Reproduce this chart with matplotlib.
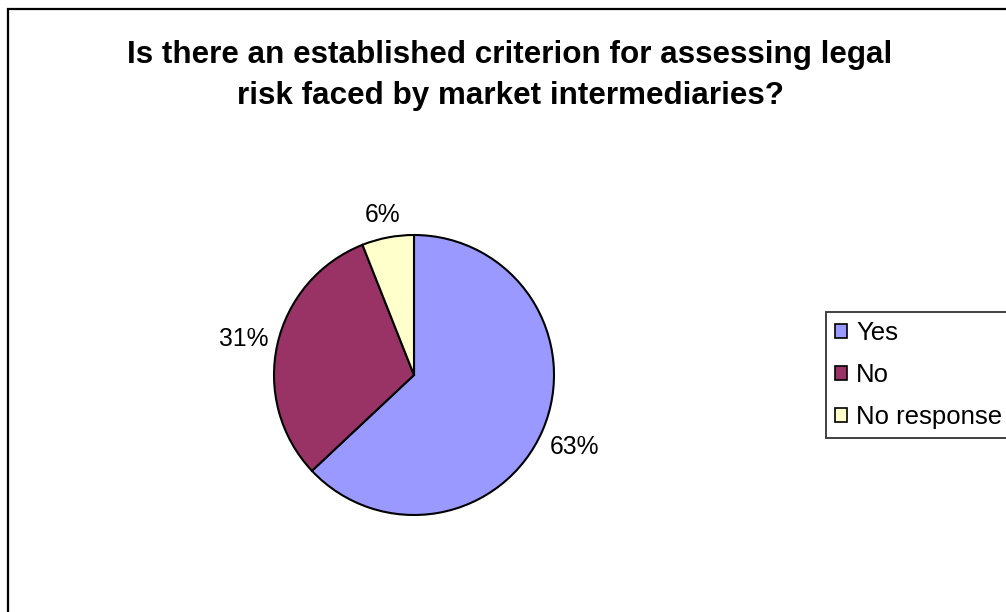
import numpy as np
import matplotlib
matplotlib.use("Agg")
import matplotlib.pyplot as plt
from matplotlib.patches import Rectangle

categories = ["Yes", "No", "No response"]
values = [63, 31, 6]
colors = ["#9999FF", "#993366", "#FFFFCC"]
label_dist = [1.25, 1.245, 1.18]
title = "Is there an established criterion for assessing legal\nrisk faced by market intermediaries?"

plt.rcParams['font.family'] = ['Liberation Sans', 'DejaVu Sans']

W, H = 1006, 612
fig = plt.figure(figsize=(W / 100, H / 100), dpi=100)
fig.patch.set_facecolor("white")

# outer chart border (right and bottom run off the image)
fig.patches.append(Rectangle((8 / W, -0.2), 1.2, 1 - 9 / H + 0.2, transform=fig.transFigure,
                             fill=False, edgecolor="black", linewidth=1.6, clip_on=False))

fig.text(510 / W, 1 - 75.5 / H, title, ha="center", va="center", fontsize=22.6,
         fontweight="bold", linespacing=1.5)

cx, cy, R = 414, 375, 140
ax = fig.add_axes([(cx - R) / W, 1 - (cy + R) / H, 2 * R / W, 2 * R / H])
wedges, texts, autotexts = ax.pie(values, colors=colors, startangle=90, counterclock=False,
                                  radius=1, autopct="%1.0f%%", pctdistance=1.23,
                                  wedgeprops=dict(edgecolor="black", linewidth=1.5),
                                  textprops=dict(fontsize=17.7))
for w, t, d in zip(wedges, autotexts, label_dist):
    th = np.deg2rad((w.theta1 + w.theta2) / 2)
    t.set_position((d * np.cos(th), d * np.sin(th)))
    t.set_va("center_baseline")
ax.set_xlim(-1, 1)
ax.set_ylim(-1, 1)
ax.set_aspect("equal")
ax.axis("off")

leg = fig.legend(wedges, categories, loc="upper left",
                 bbox_to_anchor=(826 / W, 1 - 312 / H), bbox_transform=fig.transFigure,
                 fontsize=18.5, frameon=True, fancybox=False, handlelength=0.47,
                 handleheight=0.47, handletextpad=0.35, labelspacing=0.7,
                 borderpad=0.36, borderaxespad=0)
leg.get_frame().set_edgecolor("black")
leg.get_frame().set_linewidth(1.3)
for h in leg.legend_handles:
    h.set_linewidth(1.2)

fig.savefig("out.png", dpi=100)
